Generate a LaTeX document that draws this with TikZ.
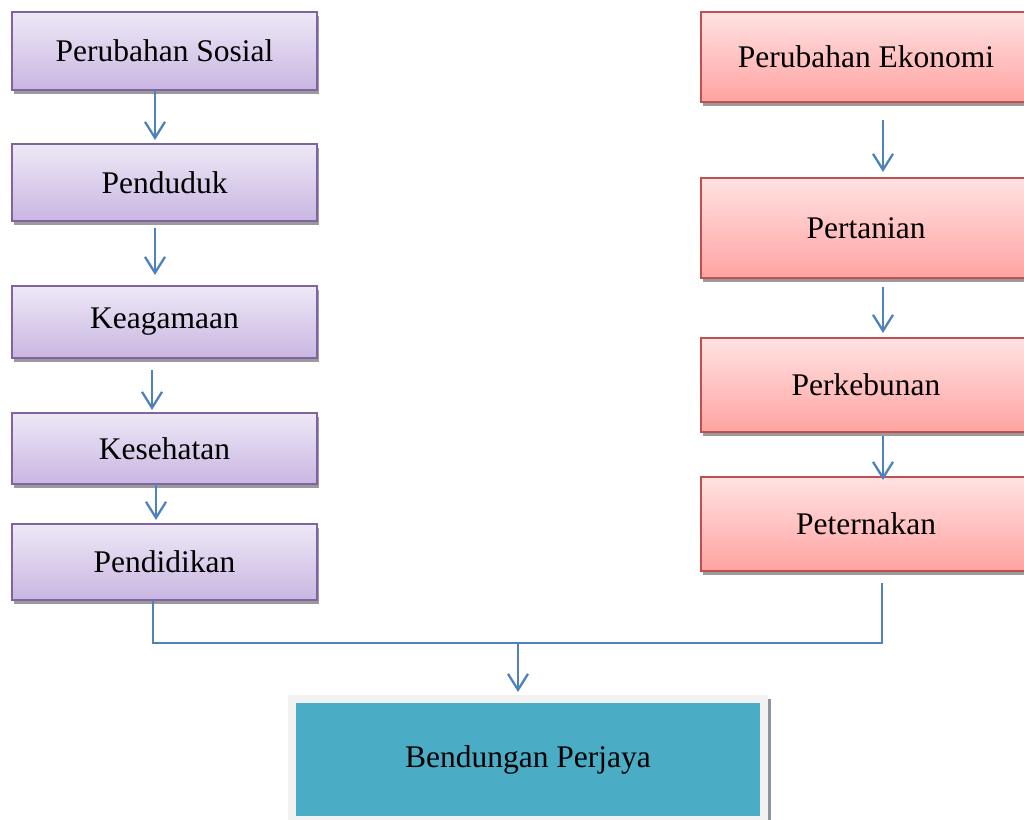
\documentclass[tikz,border=0pt]{standalone}
\usepackage{fontspec}
\setmainfont{Liberation Serif}
\usetikzlibrary{arrows.meta}
\definecolor{purpb}{HTML}{8064A2}
\definecolor{purpt}{HTML}{EEE8F6}
\definecolor{purpbot}{HTML}{C9B6E2}
\definecolor{redb}{HTML}{C0504D}
\definecolor{redt}{HTML}{FFE2E2}
\definecolor{redbot}{HTML}{FFA3A1}
\definecolor{teal}{HTML}{4BACC6}
\definecolor{framec}{HTML}{F2F2F2}
\definecolor{shadowc}{HTML}{9A9A9A}
\definecolor{arrowc}{HTML}{4F81BD}
\tikzset{
  x=1pt, y=-1pt,
  basebox/.style={rectangle, inner sep=0pt, outer sep=0pt, line width=2pt,
    font=\fontsize{31.5}{36}\selectfont, text=black,
    preaction={fill=shadowc, transform canvas={xshift=2pt, yshift=-4pt}}},
  socbox/.style={basebox, draw=purpb, top color=purpt, bottom color=purpbot,
    minimum width=305pt},
  ecobox/.style={basebox, draw=redb, top color=redt, bottom color=redbot,
    minimum width=330pt},
  endbox/.style={rectangle, inner sep=0pt, outer sep=0pt, fill=teal,
    draw=framec, line width=8pt, font=\fontsize{31.5}{36}\selectfont,
    preaction={fill=shadowc!80!arrowc, transform canvas={xshift=7pt}}},
  arr/.style={draw=arrowc, line width=2.3pt,
    -{Straight Barb[length=16pt, width=20pt, line width=2.3pt]}},
  conn/.style={draw=arrowc, line width=2pt}
}
\begin{document}
\begin{tikzpicture}
\useasboundingbox (0,0) rectangle (1024,819);
% left column
\node[socbox, minimum height=78pt] (ls1) at (164.5,51) {Perubahan Sosial};
\node[socbox, minimum height=77pt] (ls2) at (164.5,182.5) {Penduduk};
\node[socbox, minimum height=72pt] (ls3) at (164.5,322) {Keagamaan};
\node[socbox, minimum height=71pt] (ls4) at (164.5,448.5) {Kesehatan};
\node[socbox, minimum height=76pt] (ls5) at (164.5,562) {Pendidikan};
% right column
\node[ecobox, minimum height=90pt] (r1) at (866,57) {Perubahan Ekonomi};
\node[ecobox, minimum height=100pt] (r2) at (866,228) {Pertanian};
\node[ecobox, minimum height=94pt] (r3) at (866,385) {Perkebunan};
\node[ecobox, minimum height=94pt] (r4) at (866,524) {Peternakan};
% bottom
\node[endbox, minimum width=472pt, minimum height=121pt] (b) at (528,759.5) {Bendungan Perjaya};
% left arrows
\draw[arr, shorten >=4pt] ([xshift=-9.5pt]ls1.south) -- ([xshift=-9.5pt]ls2.north);
\draw[arr, shorten <=7pt, shorten >=11pt] ([xshift=-9.5pt]ls2.south) -- ([xshift=-9.5pt]ls3.north);
\draw[arr, shorten <=12pt, shorten >=3pt] ([xshift=-12.5pt]ls3.south) -- ([xshift=-12.5pt]ls4.north);
\draw[arr, shorten >=4pt] ([xshift=-8.5pt]ls4.south) -- ([xshift=-8.5pt]ls5.north);
% right arrows
\draw[arr, shorten <=18pt, shorten >=6pt] ([xshift=17pt]r1.south) -- ([xshift=17pt]r2.north);
\draw[arr, shorten <=9pt, shorten >=5pt] ([xshift=17pt]r2.south) -- ([xshift=17pt]r3.north);
\draw[arr, shorten <=4pt, shorten >=-3pt] ([xshift=17pt]r3.south) -- ([xshift=17pt]r4.north);
% joining connector
\coordinate (hl) at (153,643);
\coordinate (hr) at (882,643);
\coordinate (hm) at (518,643);
\draw[conn] ([xshift=-11.5pt]ls5.south) -- (hl) -- (hr) -- ([xshift=16pt, yshift=-12pt]r4.south);
\draw[arr, shorten >=7pt] (hm) -- ([xshift=-10pt]b.north);
\end{tikzpicture}
\end{document}
